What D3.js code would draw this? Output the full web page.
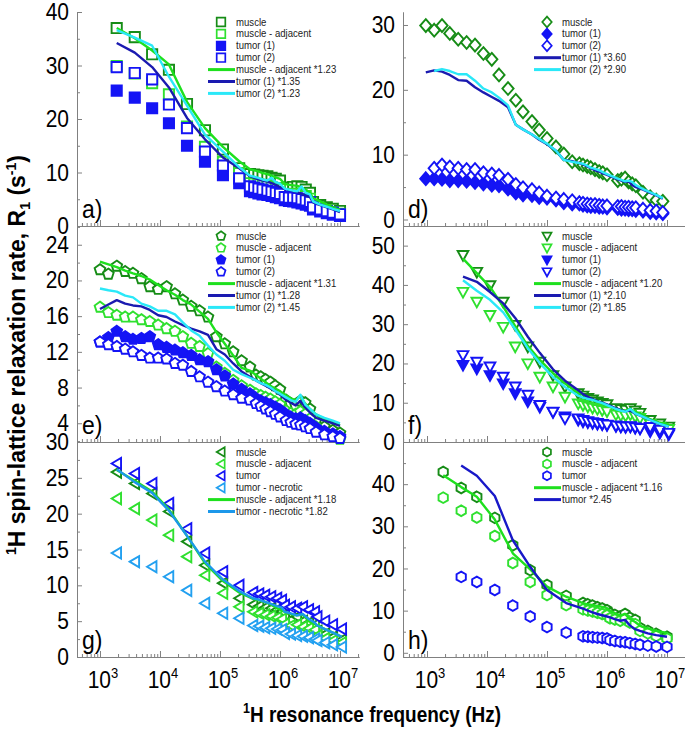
<!DOCTYPE html>
<html><head><meta charset="utf-8">
<script src="https://cdn.jsdelivr.net/npm/d3@7"></script>
<style>
body{margin:0;background:#fff}
svg{display:block}
text{font-family:"Liberation Sans",Arial,Helvetica,sans-serif}
</style></head>
<body><svg id="c" width="685" height="729"></svg>
<script>
// ---------------- DATA ----------------
// x tick labels (exponents of 10)
const xTickExp = [3, 4, 5, 6, 7];
// y tick labels per panel
const yTicksA = [0, 10, 20, 30, 40];
const yTicksD = [0, 10, 20, 30];
const yTicksE = [4, 8, 12, 16, 20, 24];
const yTicksF = [0, 10, 20, 30, 40, 50];
const yTicksG = [0, 5, 10, 15, 20, 25, 30];
const yTicksH = [0, 10, 20, 30, 40];

// panel a) frequencies (Hz) and R1 values (s^-1)
const freqA = [1900, 3800, 7400, 14100, 28200, 56200, 112000, 209000,
  316000, 372000, 437000, 513000, 617000, 724000, 851000, 1000000,
  1200000, 1410000, 1660000, 1950000, 2290000, 2690000, 3160000,
  3550000, 4680000, 6030000, 7590000, 10000000];
const aMuscle = [37.0, 35.3, 32.1, 29.2, 22.8, 17.9, 14.3, 10.8, 9.7, 9.6, 9.5, 9.4, 9.3, 9.0, 8.8, 8.5, 7.1, 7.2, 7.3, 7.4, 7.3, 6.8, 6.2, 4.5, 3.9, 3.5, 3.2, 2.8];
const aAdjacent = [29.9, 28.5, 26.7, 24.6, 18.6, 14.8, 12.0, 9.9, 8.0, 7.9, 7.8, 7.6, 7.5, 7.3, 7.1, 6.9, 5.8, 5.9, 6.0, 6.0, 5.9, 5.6, 5.1, 3.7, 3.2, 2.9, 2.6, 2.3];
const aTumor1 = [25.3, 24.0, 22.0, 19.2, 15.0, 12.0, 9.5, 8.0, 6.5, 6.3, 6.1, 5.9, 5.8, 5.6, 5.4, 5.2, 4.8, 4.7, 4.6, 4.4, 4.2, 4.0, 3.8, 3.1, 2.7, 2.4, 2.1, 1.9];
const aTumor2 = [29.7, 28.6, 27.4, 22.7, 18.3, 13.9, 11.3, 8.9, 7.4, 7.2, 7.0, 6.8, 6.6, 6.4, 6.2, 6.0, 5.4, 5.3, 5.3, 5.2, 5.0, 4.8, 4.5, 3.5, 3.1, 2.8, 2.5, 2.2];
const aAdjLine = [37.0, 35.1, 32.8, 30.2, 23.2, 18.3, 14.8, 12.1, 10.6, 10.4, 10.2, 9.9, 9.7, 9.4, 9.1, 8.8, 7.9, 7.7, 7.6, 7.5, 7.2, 6.7, 6.2, 5.2, 4.6, 4.0, 3.5, 3.0];
const aT1Line = [34.2, 32.4, 29.7, 25.9, 20.2, 16.2, 12.8, 10.8, 9.3, 9.0, 8.7, 8.5, 8.3, 8.0, 7.7, 7.3, 6.9, 6.7, 6.5, 6.3, 6.0, 5.7, 5.4, 4.4, 3.9, 3.5, 3.1, 2.6];
const aT2Line = [36.6, 35.2, 33.7, 27.9, 22.5, 17.1, 13.9, 11.0, 9.4, 9.2, 9.0, 8.7, 8.5, 9.0, 8.2, 7.9, 7.0, 6.8, 6.6, 6.5, 7.4, 6.2, 5.9, 4.6, 4.0, 3.6, 3.2, 2.8];

// panel d)
const freqD = [955, 1318, 1778, 2399, 3311, 4571, 6310, 8710, 12023, 15849,
  22387, 30200, 39811, 56234, 74131, 100000, 141254, 190546, 263027, 346737,
  398000, 468000, 537000, 631000, 741000, 851000, 1000000,
  1510000, 1740000, 2000000, 2290000, 2630000, 3020000,
  3980000, 5250000, 6610000, 8510000];
const dMuscle = [29.9, 29.2, 29.9, 28.7, 27.8, 27.3, 26.9, 25.6, 24.7, 22.3, 20.2, 18.4, 16.6, 15.1, 13.8, 12.5, 11.2, 10.1, 8.9, 8.6, 8.4, 8.2, 8.0, 7.7, 7.4, 7.2, 6.9, 6.0, 6.2, 6.4, 5.8, 5.5, 5.2, 4.2, 3.5, 3.0, 2.8];
const dTumor1 = [6.3, 6.3, 6.2, 6.0, 6.0, 5.9, 5.7, 5.5, 5.3, 5.2, 4.7, 4.1, 3.8, 3.7, 3.4, 3.3, 3.0, 2.6, 2.4, 2.4, 2.2, 2.1, 2.0, 2.0, 1.9, 1.9, 1.8, 1.7, 1.6, 1.6, 1.5, 1.5, 1.4, 1.3, 1.1, 1.0, 0.9];
const dTumor2 = [null, 7.9, 8.4, 8.1, 7.9, 7.7, 7.7, 7.2, 7.0, 6.8, 6.2, 5.4, 4.9, 4.6, 4.1, 3.6, 3.3, 3.1, 2.9, 2.6, 2.5, 2.4, 2.3, 2.3, 2.2, 2.1, 2.1, 2.0, 2.0, 1.9, 1.9, 1.8, 1.8, 1.6, 1.4, 1.3, 1.1];
const dT1Line = [22.7, 23.0, 22.8, 22.3, 21.5, 21.4, 20.4, 19.6, 18.9, 18.3, 17.3, 14.6, 13.9, 13.1, 12.3, 11.6, 10.6, 9.2, 9.0, 8.7, 8.5, 8.2, 7.9, 7.6, 7.4, 7.1, 6.9, 6.2, 6.0, 5.8, 5.9, 5.3, 5.0, 4.6, 4.1, 3.7, 3.2];
const dT2Line = [null, 22.9, 23.2, 22.9, 22.4, 22.4, 21.4, 20.2, 19.6, 18.8, 17.6, 14.6, 13.9, 13.1, 12.4, 11.7, 10.6, 9.2, 8.9, 8.7, 8.6, 8.3, 8.0, 7.8, 7.6, 7.3, 7.0, 6.3, 6.1, 5.9, 6.0, 5.8, 5.3, 4.7, 4.2, 3.8, 3.3];

// panel e)
const freqE = [1000, 1380, 1905, 2630, 3548, 4898, 6761, 9333, 12882, 17783,
  23988, 33113, 45709, 63096, 87096, 120226, 165959, 229087, 316228,
  398000, 479000, 575000, 692000, 832000, 1000000,
  1260000, 1510000, 1820000, 2190000, 2630000, 3160000,
  3980000, 5500000, 7590000, 10000000];
const eMuscle = [21.2, 20.7, 21.6, 21.0, 20.8, 20.2, 19.3, 19.0, 19.3, 18.5, 17.8, 17.1, 16.6, 15.9, 13.7, 12.9, 12.0, 11.0, 10.3, 9.4, 9.2, 8.9, 8.6, 8.2, 7.8, 6.6, 6.2, 6.0, 6.5, 6.3, 5.6, 4.3, 3.6, 3.2, 2.9];
const eAdjacent = [17.0, 16.4, 16.1, 15.9, 15.9, 15.6, 15.4, 15.0, 14.6, 14.3, 13.7, 12.95, 12.6, 11.8, 10.3, 9.6, 8.8, 8.2, 7.7, 7.3, 7.1, 6.9, 6.7, 6.4, 6.1, 5.4, 5.1, 5.0, 5.3, 5.0, 4.5, 3.6, 3.0, 2.6, 2.2];
const eTumor1 = [13.1, 13.6, 14.3, 13.7, 13.4, 13.5, 13.7, 12.8, 12.5, 12.2, 11.9, 11.6, 11.1, 10.9, 10.0, 9.3, 8.4, 7.8, 7.3, 6.8, 6.5, 6.3, 6.1, 5.8, 5.5, 5.0, 4.7, 4.5, 4.6, 4.3, 4.0, 3.5, 3.1, 2.8, 2.5];
const eTumor2 = [13.1, 12.8, 12.6, 12.3, 12.0, 11.6, 11.3, 11.3, 11.2, 10.7, 10.5, 9.8, 9.2, 8.6, 8.1, 7.6, 7.2, 6.8, 6.6, 6.2, 5.9, 5.6, 5.3, 5.0, 4.7, 4.3, 4.1, 3.9, 3.8, 3.6, 3.4, 3.0, 2.7, 2.5, 2.3];
const eAdjLine = [22.1, 21.8, 21.5, 21.1, 20.8, 20.5, 20.1, 19.5, 18.9, 18.4, 17.8, 17.3, 16.5, 15.7, 14.2, 12.9, 11.6, 10.2, 9.9, 9.4, 9.0, 8.6, 8.2, 7.9, 7.6, 7.1, 6.8, 6.6, 7.0, 6.2, 5.6, 5.0, 4.5, 4.1, 3.8];
const eT1Line = [16.8, 17.3, 17.8, 17.4, 17.2, 17.1, 16.7, 16.1, 15.9, 15.4, 15.0, 14.6, 14.3, 13.9, 12.3, 11.7, 10.7, 9.8, 9.2, 8.8, 8.5, 8.2, 7.9, 7.6, 7.2, 6.6, 6.3, 6.0, 6.5, 5.8, 5.2, 4.6, 4.3, 4.0, 3.7];
const eT2Line = [19.1, 18.9, 18.75, 18.3, 18.1, 17.4, 17.1, 16.6, 16.6, 16.2, 15.3, 14.4, 13.8, 12.7, 11.7, 11.0, 10.0, 9.5, 9.1, 8.8, 8.5, 8.3, 8.0, 7.6, 7.3, 6.9, 6.6, 6.4, 7.2, 6.1, 5.6, 5.0, 4.6, 4.3, 4.0];

// panel f)
const freqF = [3981, 6761, 11220, 18621, 29512, 47863, 75858, 125893, 199526, 331131,
  398000, 479000, 575000, 692000, 832000, 1000000,
  1410000, 1700000, 2040000, 2450000, 2950000, 3550000,
  5250000, 7590000, 10700000];
const fMuscle = [47.6, 43.3, 39.9, 35.7, 29.8, 24.3, 20.4, 17.0, 14.1, 12.4, 11.8, 11.2, 10.8, 10.3, 9.9, 9.6, 8.6, 8.4, 8.2, 8.6, 8.0, 7.4, 5.6, 4.7, 3.9];
const fAdjacent = [38.2, 35.7, 32.3, 29.3, 24.3, 20.0, 16.6, 14.1, 11.5, 9.8, 9.4, 9.0, 8.7, 8.4, 8.1, 7.8, 7.0, 6.8, 6.7, 7.0, 6.5, 6.1, 4.6, 3.9, 3.3];
const fTumor1 = [19.6, 18.7, 17.0, 14.9, 12.4, 10.3, 8.9, 7.6, 6.5, 5.6, 5.2, 5.0, 4.8, 4.6, 4.5, 4.3, 4.0, 3.9, 3.8, 3.9, 3.6, 3.4, 2.7, 2.3, 1.9];
const fTumor2 = [22.1, 20.4, 19.2, 16.6, 14.1, 12.0, 9.4, 7.7, 6.0, 6.0, 5.6, 5.3, 5.0, 4.8, 4.6, 4.4, 4.2, 4.0, 3.9, 4.0, 3.7, 3.5, 3.8, 3.1, 2.3];
const fAdjLine = [46.7, 43.0, 39.5, 34.5, 29.5, 24.5, 20.9, 17.5, 14.9, 12.5, 12.0, 11.4, 10.7, 10.2, 9.8, 9.4, 8.4, 8.2, 8.0, 8.4, 7.6, 7.2, 5.8, 4.9, 4.4];
const fT1Line = [42.1, 40.8, 38.2, 35.3, 31.6, 26.8, 22.7, 18.5, 15.6, 13.2, 12.2, 11.5, 10.9, 10.4, 10.0, 9.6, 8.6, 8.1, 7.8, 8.0, 7.2, 6.7, 5.6, 4.5, 3.9];
const fT2Line = [41.2, 38.5, 36.2, 33.0, 28.7, 23.9, 20.1, 16.6, 14.0, 11.8, 11.3, 11.0, 10.7, 10.3, 9.9, 9.4, 8.4, 8.0, 7.7, 8.4, 7.3, 6.8, 5.6, 4.6, 3.9];

// panel g)
const freqG = [1900, 3800, 7400, 14100, 28200, 56200, 112000, 209000,
  355000, 447000, 562000, 708000, 891000, 1072000,
  1200000, 1510000, 1910000, 2400000, 3020000, 3800000,
  4170000, 5620000, 7590000, 10700000];
const gMuscle = [25.8, 24.2, 22.8, 20.3, 16.1, 12.8, 10.3, 8.2, 7.3, 7.1, 6.9, 6.8, 6.6, 6.4, 5.4, 5.2, 5.6, 5.0, 4.8, 4.5, 3.6, 3.2, 2.8, 2.4];
const gAdjacent = [22.1, 20.7, 19.1, 17.0, 14.0, 11.4, 8.9, 7.0, 6.3, 6.1, 5.9, 5.7, 5.5, 5.3, 4.6, 4.4, 4.5, 4.2, 4.0, 3.8, 3.0, 2.6, 2.3, 2.0];
const gTumor = [27.0, 25.6, 24.2, 21.4, 17.9, 14.5, 11.9, 10.0, 9.0, 8.8, 8.6, 8.4, 8.2, 7.9, 7.2, 7.0, 6.8, 7.0, 6.6, 6.3, 5.6, 5.0, 4.5, 3.9];
const gNecrotic = [14.5, 13.3, 12.6, 11.2, 9.3, 7.5, 6.1, 5.4, 4.4, 4.3, 4.1, 4.0, 3.9, 3.8, 3.3, 3.2, 3.0, 2.9, 2.7, 2.5, 2.3, 2.0, 1.7, 1.4];
const gAdjLine = [26.1, 24.6, 23.1, 20.6, 16.9, 13.1, 10.6, 9.0, 8.1, 7.9, 7.7, 7.3, 6.8, 6.5, 6.3, 6.0, 5.8, 5.9, 5.0, 4.6, 4.4, 3.9, 3.4, 2.8];
const gNecLine = [26.2, 24.4, 22.9, 20.4, 16.9, 13.3, 10.8, 9.2, 8.2, 8.0, 7.7, 7.4, 7.1, 6.9, 6.3, 6.1, 5.8, 6.0, 5.3, 4.8, 4.4, 3.9, 3.4, 2.8];

// panel h)
const freqH = [1862, 3715, 6761, 13490, 26915, 52481, 100000, 208930,
  398000, 479000, 575000, 692000, 832000, 1000000,
  1120000, 1350000, 1660000, 2000000, 2400000, 2950000,
  3550000, 4790000, 6610000, 10000000];
const hMuscle = [42.9, 39.1, 37.0, 32.0, 25.5, 19.6, 16.1, 13.5, 11.8, 11.5, 11.2, 10.8, 10.5, 10.1, 9.4, 9.0, 8.6, 9.2, 8.3, 7.8, 5.9, 5.2, 4.5, 3.8];
const hAdjacent = [36.8, 33.7, 32.1, 27.7, 21.3, 16.8, 13.7, 11.3, 10.3, 10.0, 9.8, 9.5, 9.2, 8.9, 8.2, 7.9, 7.6, 8.0, 7.2, 6.8, 5.2, 4.6, 4.0, 3.4];
const hTumor = [null, 18.0, 16.8, 14.9, 11.2, 8.6, 6.1, 4.8, 3.9, 3.8, 3.7, 3.6, 3.5, 3.4, 3.0, 2.8, 2.6, 2.5, 2.3, 2.1, 1.9, 1.7, 1.5, 1.4];
const hAdjLine = [42.1, 39.3, 37.0, 31.6, 23.6, 19.8, 15.7, 13.3, 11.8, 11.5, 11.3, 11.1, 10.9, 10.6, 10.0, 9.4, 8.8, 9.2, 8.0, 7.3, 6.4, 5.8, 5.2, 4.7];
const hTumLine = [null, 44.4, 42.0, 37.2, 26.7, 20.4, 14.9, 11.8, 10.5, 10.0, 9.6, 9.2, 8.9, 8.6, 8.4, 8.0, 7.6, 7.8, 6.5, 5.6, 5.2, 4.6, 4.2, 3.8];

// ---------------- STYLE ----------------
const C = {
  muscle: '#168c16', adj: '#2fe02f', blue: '#1414f5',
  adjLine: '#1ee01e', t1Line: '#1a1ab0', t2Line: '#2ae8f8',
  necro: '#22a0f0', necLine: '#1c98ea', hTumLine: '#1818c8', axis: '#808080'
};

const cols = [{x0: 77, x1: 359, lo: 2.617, hi: 7.317}, {x0: 403, x1: 685, lo: 2.6, hi: 7.3}];
const rows = [{y0: 226, y1: 12}, {y0: 442, y1: 226}, {y0: 657, y1: 442}];

const panels = [
  {label: 'a)', col: 0, row: 0, yDom: [0, 40], yTicks: yTicksA, yMinorStep: 5, shape: 'square', freq: freqA,
   series: [
     {name: 'muscle', v: aMuscle, color: C.muscle, filled: false},
     {name: 'muscle - adjacent', v: aAdjacent, color: C.adj, filled: false},
     {name: 'tumor (1)', v: aTumor1, color: C.blue, filled: true},
     {name: 'tumor (2)', v: aTumor2, color: C.blue, filled: false}],
   lines: [
     {name: 'muscle - adjacent *1.23', v: aAdjLine, color: C.adjLine},
     {name: 'tumor (1) *1.35', v: aT1Line, color: C.t1Line},
     {name: 'tumor (2) *1.23', v: aT2Line, color: C.t2Line}]},
  {label: 'd)', col: 1, row: 0, yDom: [-1, 32], yTicks: yTicksD, yMinorStep: 5, shape: 'diamond', freq: freqD,
   series: [
     {name: 'muscle', v: dMuscle, color: C.muscle, filled: false},
     {name: 'tumor (1)', v: dTumor1, color: C.blue, filled: true},
     {name: 'tumor (2)', v: dTumor2, color: C.blue, filled: false}],
   lines: [
     {name: 'tumor (1) *3.60', v: dT1Line, color: C.t1Line},
     {name: 'tumor (2) *2.90', v: dT2Line, color: C.t2Line}]},
  {label: 'e)', col: 0, row: 1, yDom: [1.9, 26.1], yTicks: yTicksE, yMinorStep: 2, shape: 'pentagon', freq: freqE,
   series: [
     {name: 'muscle', v: eMuscle, color: C.muscle, filled: false},
     {name: 'muscle - adjacent', v: eAdjacent, color: C.adj, filled: false},
     {name: 'tumor (1)', v: eTumor1, color: C.blue, filled: true},
     {name: 'tumor (2)', v: eTumor2, color: C.blue, filled: false}],
   lines: [
     {name: 'muscle - adjacent *1.31', v: eAdjLine, color: C.adjLine},
     {name: 'tumor (1) *1.28', v: eT1Line, color: C.t1Line},
     {name: 'tumor (2) *1.45', v: eT2Line, color: C.t2Line}]},
  {label: 'f)', col: 1, row: 1, yDom: [0, 55], yTicks: yTicksF, yMinorStep: 5, shape: 'triDown', freq: freqF,
   series: [
     {name: 'muscle', v: fMuscle, color: C.muscle, filled: false},
     {name: 'muscle - adjacent', v: fAdjacent, color: C.adj, filled: false},
     {name: 'tumor (1)', v: fTumor1, color: C.blue, filled: true},
     {name: 'tumor (2)', v: fTumor2, color: C.blue, filled: false}],
   lines: [
     {name: 'muscle - adjacent *1.20', v: fAdjLine, color: C.adjLine},
     {name: 'tumor (1) *2.10', v: fT1Line, color: C.t1Line},
     {name: 'tumor (2) *1.85', v: fT2Line, color: C.t2Line}]},
  {label: 'g)', col: 0, row: 2, yDom: [0, 30], yTicks: yTicksG, yMinorStep: 2.5, shape: 'triLeft', freq: freqG,
   series: [
     {name: 'muscle', v: gMuscle, color: C.muscle, filled: false},
     {name: 'muscle - adjacent', v: gAdjacent, color: C.adj, filled: false},
     {name: 'tumor', v: gTumor, color: C.blue, filled: false},
     {name: 'tumor - necrotic', v: gNecrotic, color: C.necro, filled: false}],
   lines: [
     {name: 'muscle - adjacent *1.18', v: gAdjLine, color: C.adjLine},
     {name: 'tumor - necrotic *1.82', v: gNecLine, color: C.necLine}]},
  {label: 'h)', col: 1, row: 2, yDom: [-1, 50], yTicks: yTicksH, yMinorStep: 5, shape: 'hexagon', freq: freqH,
   series: [
     {name: 'muscle', v: hMuscle, color: C.muscle, filled: false},
     {name: 'muscle - adjacent', v: hAdjacent, color: C.adj, filled: false},
     {name: 'tumor', v: hTumor, color: C.blue, filled: false}],
   lines: [
     {name: 'muscle - adjacent *1.16', v: hAdjLine, color: C.adjLine},
     {name: 'tumor *2.45', v: hTumLine, color: C.hTumLine}]}
];

// ---------------- SHAPES ----------------
function shapePath(shape, r) {
  const poly = (n, rot, rad) => {
    const p = [];
    for (let k = 0; k < n; k++) {
      const a = (rot + k * 360 / n) * Math.PI / 180;
      p.push([rad * Math.cos(a), rad * Math.sin(a)]);
    }
    return 'M' + p.map(q => q[0].toFixed(2) + ',' + q[1].toFixed(2)).join('L') + 'Z';
  };
  switch (shape) {
    case 'square': return `M${-r},${-r}h${2 * r}v${2 * r}h${-2 * r}Z`;
    case 'diamond': return `M0,${-r * 1.25}L${r * 1.1},0L0,${r * 1.25}L${-r * 1.1},0Z`;
    case 'pentagon': return poly(5, -90, r * 1.1);
    case 'triDown': return `M${-r * 1.05},${-r * 0.8}L${r * 1.05},${-r * 0.8}L0,${r * 1.1}Z`;
    case 'triLeft': return `M${-r * 1.0},0L${r * 0.85},${-r * 1.1}L${r * 0.85},${r * 1.1}Z`;
    case 'hexagon': return poly(6, -90, r * 1.05);
  }
}

// ---------------- DRAW ----------------
const svg = d3.select('#c');
const SY = 1.12; // vertical stretch of the original typography
const labelLayer = svg.append('g');

panels.forEach(p => {
  const c = cols[p.col], r = rows[p.row];
  const x = d3.scaleLog().domain([Math.pow(10, c.lo), Math.pow(10, c.hi)]).range([c.x0, c.x1]);
  const y = d3.scaleLinear().domain(p.yDom).range([r.y0, r.y1]);
  const g = svg.append('g');

  // minor y ticks
  const minors = [];
  for (let v = Math.ceil(p.yDom[0] / p.yMinorStep) * p.yMinorStep; v <= p.yDom[1] + 1e-9; v += p.yMinorStep) {
    if (!p.yTicks.some(t => Math.abs(t - v) < 1e-6)) minors.push(v);
  }
  const yMinorAx = g.append('g').attr('transform', `translate(${c.x0},0)`)
    .call(d3.axisLeft(y).tickValues(minors).tickSize(-3).tickSizeOuter(0).tickFormat(''));
  const yAx = g.append('g').attr('transform', `translate(${c.x0},0)`)
    .call(d3.axisLeft(y).tickValues(p.yTicks).tickSize(-5).tickSizeOuter(0).tickPadding(8));
  yAx.selectAll('text').attr('font-size', 21).attr('fill', '#000')
    .attr('font-family', '"Liberation Sans",Arial,sans-serif')
    .attr('transform', `scale(1,${SY})`);

  // x axis
  const dec = [], minX = [];
  for (let e = 2; e <= 7; e++) {
    for (let m = 1; m <= 9; m++) {
      const f = m * Math.pow(10, e);
      if (f < x.domain()[0] || f > x.domain()[1]) continue;
      if (m === 1) dec.push(f); else minX.push(f);
    }
  }
  const xMinorAx = g.append('g').attr('transform', `translate(0,${r.y0})`)
    .call(d3.axisBottom(x).tickValues(minX).tickSize(-3).tickSizeOuter(0).tickFormat(''));
  const xAx = g.append('g').attr('transform', `translate(0,${r.y0})`)
    .call(d3.axisBottom(x).tickValues(dec).tickSize(-6).tickSizeOuter(0).tickFormat(''));
  [yMinorAx, yAx, xMinorAx, xAx].forEach(a => {
    a.selectAll('path,line').attr('stroke', C.axis).attr('stroke-width', 1);
  });
  if (p.row === 2) {
    xTickExp.forEach(ex => {
      const f = Math.pow(10, ex);
      const t = labelLayer.append('text').attr('fill', '#000').attr('text-anchor', 'middle')
        .attr('x', 0).attr('y', 0)
        .attr('transform', `translate(${x(f) + 3},${r.y0 + 31}) scale(1,${SY})`)
        .attr('font-size', 21);
      t.append('tspan').text('10');
      t.append('tspan').attr('font-size', 13).attr('dy', -9).text(ex);
    });
  }

  // markers
  p.series.forEach(s => {
    const pts = p.freq.map((f, i) => ({f, v: s.v[i]})).filter(d => d.v != null);
    g.append('g').selectAll('path').data(pts).join('path')
      .attr('d', shapePath(p.shape, 5.1))
      .attr('transform', d => `translate(${x(d.f)},${y(d.v)})`)
      .attr('fill', s.filled ? s.color : '#fff')
      .attr('stroke', s.color).attr('stroke-width', 1.9);
  });
  // scaled curves
  p.lines.forEach(l => {
    const pts = p.freq.map((f, i) => ({f, v: l.v[i]})).filter(d => d.v != null);
    g.append('path').datum(pts)
      .attr('d', d3.line().x(d => x(d.f)).y(d => y(d.v)))
      .attr('fill', 'none').attr('stroke', l.color).attr('stroke-width', 2.4)
      .attr('stroke-linejoin', 'round');
  });

  // legend
  const lx = c.x0 + 144, tx = c.x0 + 158, ly0 = r.y1 + 10, dy = 11.9;
  const items = p.series.map(s => ({type: 'sym', s})).concat(p.lines.map(l => ({type: 'line', s: l})));
  items.forEach((it, i) => {
    const yy = ly0 + i * dy;
    if (it.type === 'sym') {
      g.append('path').attr('d', shapePath(p.shape, 4.3))
        .attr('transform', `translate(${lx},${yy})`)
        .attr('fill', it.s.filled ? it.s.color : '#fff')
        .attr('stroke', it.s.color).attr('stroke-width', 1.7);
    } else {
      g.append('line').attr('x1', c.x0 + 131).attr('x2', tx).attr('y1', yy).attr('y2', yy)
        .attr('stroke', it.s.color).attr('stroke-width', 3);
    }
    g.append('text').attr('transform', `translate(${tx + 1},${yy + 3.5}) scale(1,${SY})`)
      .attr('font-size', 9.6).attr('fill', '#222').text(it.s.name);
  });

  // panel label
  g.append('text').attr('transform', `translate(${c.x0 + 5},${r.y0 - 8}) scale(1,${SY})`)
    .attr('font-size', 23).attr('fill', '#000').text(p.label);
});

// axis titles
const xt = svg.append('text').attr('text-anchor', 'middle')
  .attr('transform', `translate(372,722) scale(1,${SY})`)
  .attr('font-size', 19).attr('font-weight', 'bold').attr('fill', '#000');
xt.append('tspan').attr('font-size', 12.5).attr('dy', -8).text('1');
xt.append('tspan').attr('dy', 8).text('H resonance frequency (Hz)');

const yt = svg.append('text').attr('text-anchor', 'middle')
  .attr('transform', 'translate(25,355) rotate(-90)')
  .attr('font-size', 23).attr('font-weight', 'bold').attr('fill', '#000');
yt.append('tspan').attr('font-size', 14).attr('dy', -9).text('1');
yt.append('tspan').attr('dy', 9).text('H spin-lattice relaxation rate, R');
yt.append('tspan').attr('font-size', 14).attr('dy', 5).text('1');
yt.append('tspan').attr('dy', -5).text(' (s');
yt.append('tspan').attr('font-size', 14).attr('dy', -9).text('-1');
yt.append('tspan').attr('dy', 9).text(')');
</script></body></html>
